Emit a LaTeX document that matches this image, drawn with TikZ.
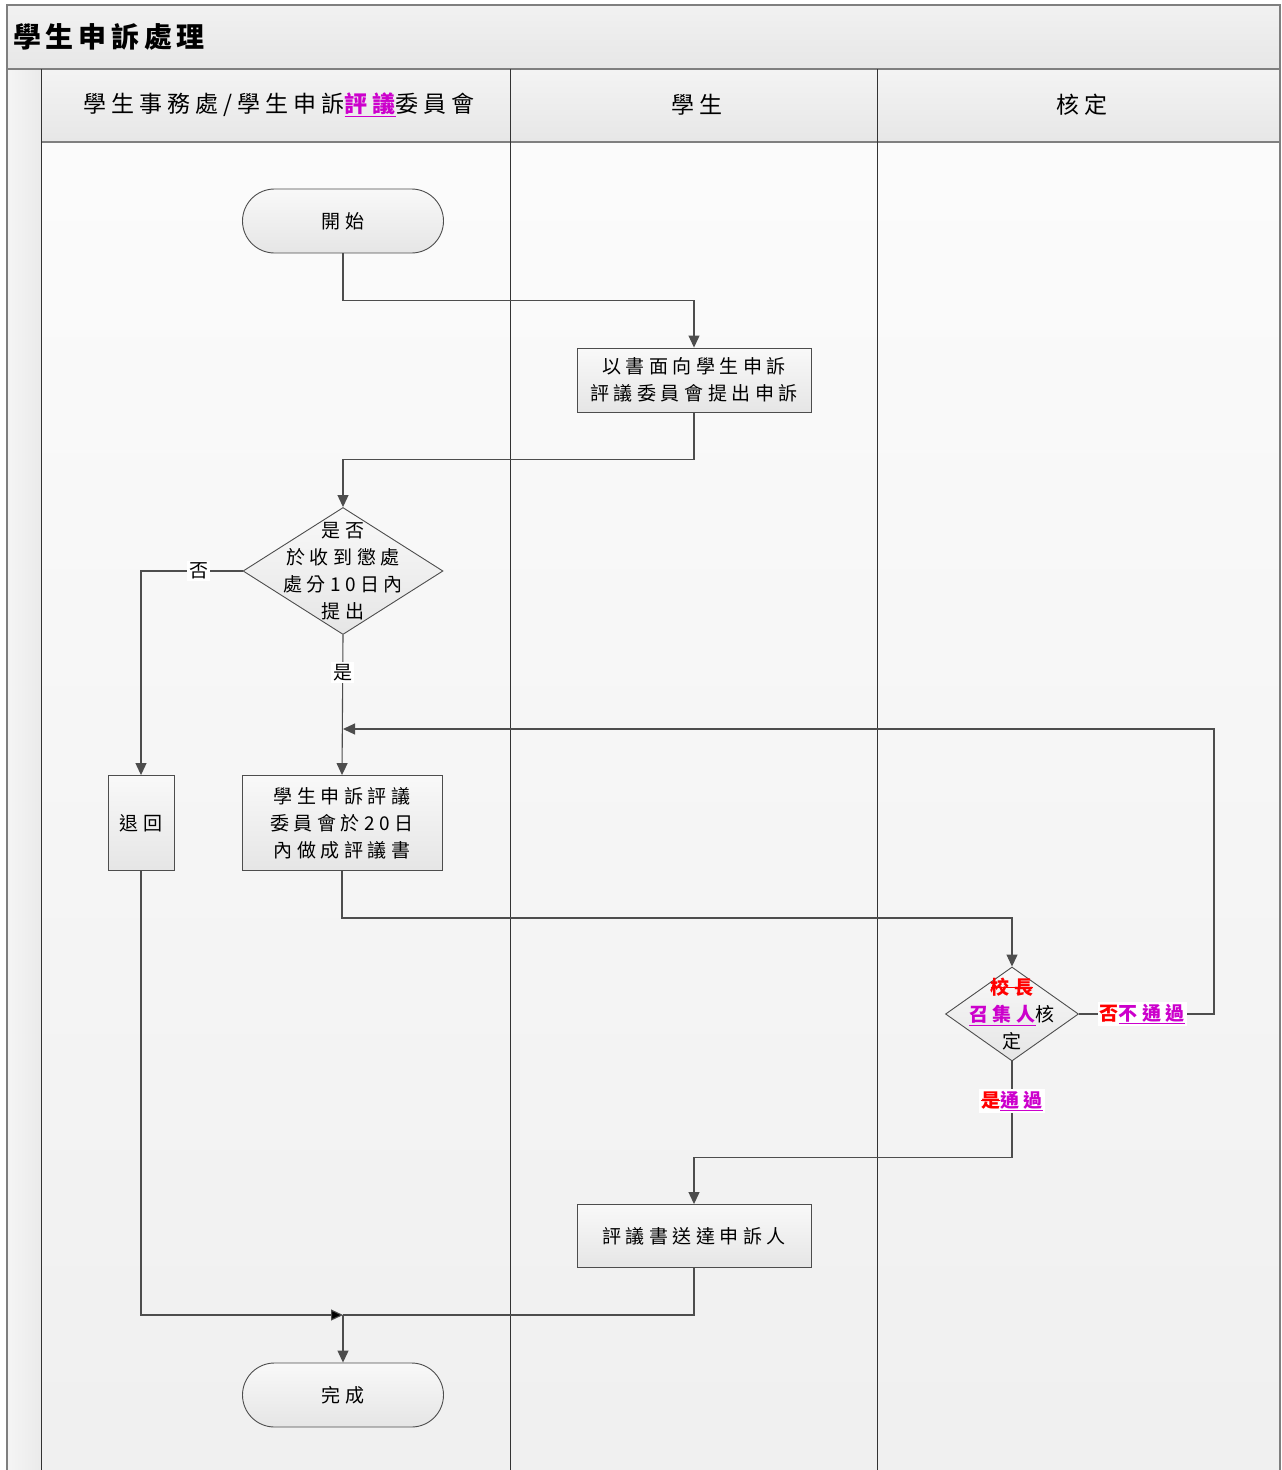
\documentclass[tikz,border=0pt]{standalone}
\usepackage{fontspec}
\setmainfont{Noto Sans CJK TC}
\newfontfamily\titlefam[LetterSpace=17]{Noto Sans CJK TC}
\newfontfamily\headfam[LetterSpace=22]{Noto Sans CJK TC}
\newfontfamily\nodefam[LetterSpace=24]{Noto Sans CJK TC}
\usetikzlibrary{shapes.geometric,arrows.meta}

\definecolor{linec}{HTML}{4D4D4D}
\definecolor{framec}{HTML}{7F7F7F}
\definecolor{purp}{HTML}{CC00CC}
\definecolor{redc}{HTML}{FF0000}

% purple underlined and red struck-through words
\newcommand\purword[1]{\textcolor{purp}{\underline{#1}}}
\newcommand\redstruck[1]{{\color{redc}\setbox0\hbox{#1}\rlap{\rule[0.33em]{\wd0}{0.8pt}}\box0}}

\begin{document}
\begin{tikzpicture}[x=1pt,y=-1pt,
  base/.style={draw=linec, line width=0.9pt, top color=gray!5, bottom color=gray!20,
    inner sep=0pt, align=center, font=\nodefam\fontsize{19}{27}\selectfont},
  term/.style={base, rectangle, rounded corners=32pt, minimum width=201pt, minimum height=64pt},
  proc/.style={base, rectangle},
  decide/.style={base, diamond, minimum width=200pt, minimum height=127pt},
  dtext/.style={align=center, inner sep=0pt, font=\nodefam\fontsize{19}{27}\selectfont},
  conn/.style={draw=linec, line width=1.1pt, -{Triangle[length=12pt,width=11pt]}},
  plain/.style={draw=linec, line width=1.1pt},
  lbl/.style={fill=white, inner sep=2pt, font=\nodefam\fontsize{19}{22}\selectfont}]

\useasboundingbox (0,0) rectangle (1282,1470);

% ---- pool frame, title band, lane strip, headers, lane bodies ----
\shade[top color=gray!3, bottom color=gray!12] (41,142) rectangle (1280,1475);
\shade[top color=gray!11, bottom color=gray!19] (7,5) rectangle (1280,69);
\shade[left color=gray!8, right color=gray!16] (7,69) rectangle (41,1475);
\shade[top color=gray!9, bottom color=gray!19] (41,69) rectangle (1280,142);
\draw[framec, line width=1.4pt] (7,1475) -- (7,5) -- (1280,5) -- (1280,1475);
\draw[framec, line width=1.4pt] (7,69) -- (1280,69);
\draw[framec, line width=1.8pt] (41,142) -- (1280,142);
\draw[black!80, line width=0.8pt] (41,69) -- (41,1475);
\draw[black!80, line width=0.8pt] (510,69) -- (510,1475);
\draw[black!80, line width=0.8pt] (877,69) -- (877,1475);

\node[anchor=west, inner sep=0pt, font=\titlefam\bfseries\fontsize{28}{30}\selectfont] (title) at (13,37) {學生申訴處理};
\node[inner sep=0pt, font=\headfam\fontsize{23}{26}\selectfont] (h1) at (279,105)
  {學生事務處/學生申訴\purword{\bfseries 評議}委員會};
\node[inner sep=0pt, font=\headfam\fontsize{23}{26}\selectfont] (h2) at (697,105) {學生};
\node[inner sep=0pt, font=\headfam\fontsize{23}{26}\selectfont] (h3) at (1082,105) {核定};

% ---- flow nodes ----
\node[term] (start) at (343,221) {開始};
\node[proc, minimum width=234pt, minimum height=64pt] (file) at (694,380)
  {以書面向學生申訴\\評議委員會提出申訴};
\node[decide] (check) at (343,571) {};
\node[dtext] (checkt) at (343,571) {是否\\於收到懲處\\處分10日內\\提出};
\node[proc, minimum width=66pt, minimum height=95pt] (back) at (141,823) {退回};
\node[proc, minimum width=200pt, minimum height=95pt] (review) at (342,823)
  {學生申訴評議\\委員會於20日\\內做成評議書};
\node[decide, minimum width=133pt, minimum height=94pt] (approve) at (1012,1014) {};
\node[dtext] (approvet) at (1012,1014)
  {\redstruck{\bfseries 校長}\\\purword{\bfseries 召集人}核\\定};
\node[proc, minimum width=234pt, minimum height=63pt] (send) at (694,1236) {評議書送達申訴人};
\node[term] (finish) at (343,1395) {完成};

\coordinate (loopin) at (343,729);
\coordinate (merge) at (343,1315);

% ---- connectors ----
\draw[conn] (start.south) -- ++(0,47) -| (file.north);
\draw[conn] (file.south) -- ++(0,47) -| (check.north);
\draw[conn] (check.west) -- node[lbl, pos=0.43] {否} (check.west -| back.north) -- (back.north);
\draw[conn] (check.south) -- node[lbl, pos=0.27] {是} (review.north);
\draw[conn] (review.south) -- ++(0,47) -| (approve.north);
\draw[conn] (approve.east) -- node[lbl, pos=0.47]
  {\textcolor{redc}{\bfseries 否}\purword{\bfseries 不通過}} ++(135,0) |- (loopin);
\draw[conn] (approve.south) -- node[lbl, pos=0.41]
  {\redstruck{\bfseries 是}\purword{\bfseries 通過}} ++(0,96) -| (send.north);
\draw[plain] (send.south) |- (merge);
\draw[draw=linec, line width=1.1pt, -{Triangle[length=12pt,width=11pt,fill=black]}] (back.south) |- (merge);
\draw[conn] (merge) -- (finish.north);

\end{tikzpicture}
\end{document}
